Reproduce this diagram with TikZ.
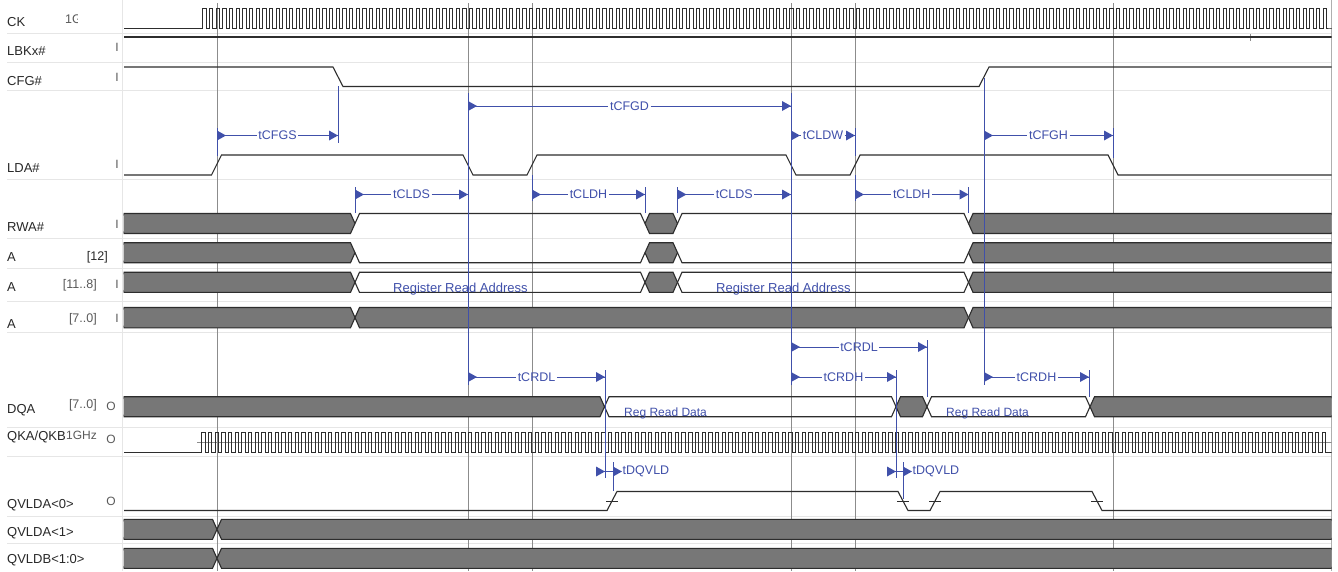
\documentclass[tikz,border=0pt]{standalone}
\usepackage{fontspec}
\setmainfont{Liberation Sans}
\definecolor{tdblue}{RGB}{64,80,170}
\definecolor{sigc}{RGB}{45,45,45}
\definecolor{busgray}{RGB}{119,119,119}
\definecolor{sepc}{RGB}{230,230,230}
\definecolor{markc}{RGB}{140,140,140}
\definecolor{labc}{RGB}{40,40,40}
\definecolor{colc}{RGB}{90,90,90}
\tikzset{
 sig/.style={draw=sigc, line width=1.1pt, line join=miter},
 gbus/.style={sig, fill=busgray},
 wbus/.style={sig},
 rowsep/.style={draw=sepc, line width=1pt},
 edgemark/.style={draw=markc, line width=0.8pt},
 extl/.style={draw=tdblue, line width=0.9pt},
 mline/.style={draw=tdblue, line width=0.9pt},
 mlab/.style={text=tdblue, font=\fontsize{12.5}{14}\selectfont, inner sep=1.5pt},
 sname/.style={anchor=base west, text=labc, font=\fontsize{13}{15}\selectfont, inner sep=0pt},
 colt/.style={anchor=base east, text=colc, font=\fontsize{12.5}{14}\selectfont, inner sep=0pt},
 iot/.style={anchor=base, text=colc, font=\fontsize{12}{14}\selectfont, inner sep=0pt},
 busl/.style={anchor=base west, text=tdblue, font=\fontsize{12}{14}\selectfont, inner sep=0pt},
 tick/.style={draw=sigc, line width=0.7pt},
}
% bus segment with pointed ends: style, a, b, top, bottom
\newcommand{\bseg}[5]{\draw[#1] (#2,{(#4+#5)/2}) -- ({#2+4.5},#4) -- ({#3-4.5},#4) -- (#3,{(#4+#5)/2}) -- ({#3-4.5},#5) -- ({#2+4.5},#5) -- cycle;}
% single level after transition: a, b, level y, mid y
\newcommand{\lvl}[4]{\draw[sig] (#1,#4) -- ({#1+4.5},#3) -- ({#2-4.5},#3) -- (#2,#4);}
% measurement: name, x0, x1, y, label
\newcommand{\meas}[5]{%
 \coordinate (#1s) at (#2,#4);
 \coordinate (#1e) at (#3,#4);
 \node[mlab] (#1) at ({(#2+#3)/2},#4) {#5};
 \draw[mline] (#1s) -- (#1.west);
 \draw[mline] (#1.east) -- (#1e);
 \fill[tdblue] (#1s) ++(0,-5) -- ++(9,5) -- ++(-9,5) -- cycle;
 \fill[tdblue] (#1e) -- ++(-9,-5) -- ++(0,10) -- cycle;
}
\begin{document}
\begin{tikzpicture}[x=1pt,y=-1pt]
\useasboundingbox (0,0) rectangle (1338,571);
\fill[white] (0,0) rectangle (1338,571);
% row separators
\foreach \yy in {33,62,90,179,238,268,301,332,427,456,516,543}
  \draw[rowsep] (7,\yy) -- (1331,\yy);
\draw[rowsep] (122,0) -- (122,571);
\draw[draw=markc!70, line width=0.8pt] (1331,0) -- (1331,571);
% clock edge markers
\foreach \xx in {217,468,532,791,855,1113}
  \draw[edgemark] (\xx,3) -- (\xx,571);
\draw[edgemark] (1250,34) -- (1250,41);

% ---- labels
\node[sname] (lck) at (7,26) {CK};
\node[sname] (llbk) at (7,55) {LBKx\#};
\node[sname] (lcfg) at (7,85) {CFG\#};
\node[sname] (llda) at (7,172.5) {LDA\#};
\node[sname] (lrwa) at (7,231) {RWA\#};
\node[sname] (la12) at (7,261) {A};
\node[sname] (la118) at (7,291) {A};
\node[sname] (la70) at (7,328) {A};
\node[sname] (ldqa) at (7,413) {DQA};
\node[sname] (lqka) at (7,440) {QKA/QKB};
\node[sname] (lqv0) at (7,508) {QVLDA<0>};
\node[sname] (lqv1) at (7,536) {QVLDA<1>};
\node[sname] (lqvb) at (7,563) {QVLDB<1:0>};
\begin{scope}
\clip (60,0) rectangle (77,33);
\node[colt, anchor=base west] (cck) at (65,23) {1GHz};
\end{scope}
\node[colt, text=labc] (c12) at (108,260) {[12]};
\node[colt] (c118) at (97,288) {[11..8]};
\node[colt] (c70) at (97,322) {[7..0]};
\node[colt] (cdqa) at (97,408) {[7..0]};
\node[colt, anchor=base west, font=\fontsize{12}{14}\selectfont] (cqka) at (66,439) {1GHz};
\node[iot] (i1) at (117,51.5) {I};
\node[iot] (i2) at (117,81.5) {I};
\node[iot] (i3) at (117,168) {I};
\node[iot] (i4) at (117,228) {I};
\node[iot] (i5) at (117,288) {I};
\node[iot] (i6) at (117,322) {I};
\node[iot] (o1) at (111,410) {O};
\node[iot] (o2) at (111,443) {O};
\node[iot] (o3) at (111,505) {O};

% ---- signals
\begin{scope}
\clip (123.5,0) rectangle (1331.5,571);
% CK
\draw[sig, line width=0.9pt] (124,28) -- (202.7,28) \foreach \i in {0,...,168}{ -- ({202.7+\i*6.67},8) -- ({202.7+(\i+0.5)*6.67},8) -- ({202.7+(\i+0.5)*6.67},28) -- ({202.7+(\i+1)*6.67},28)} -- (1332,28);
% LBKx#
\draw[sig] (124,37) -- (1332,37);
% CFG#
\draw[sig] (124,67) -- (333,67) -- (343,86.5) -- (979,86.5) -- (989,67) -- (1332,67);
% LDA#
\draw[sig] (124,175) -- (211.5,175) -- (221.5,155) -- (463,155) -- (473,175) -- (527,175) -- (537,155) -- (786,155) -- (796,175) -- (850,175) -- (860,155) -- (1108,155) -- (1118,175) -- (1332,175);
% RWA#
\bseg{gbus}{119.5}{355}{213.5}{233.5}
\lvl{355}{645}{213.5}{223.5}
\bseg{gbus}{645}{677.5}{213.5}{233.5}
\lvl{677.5}{968.5}{213.5}{223.5}
\bseg{gbus}{968.5}{1336}{213.5}{233.5}
% A[12]
\bseg{gbus}{119.5}{355}{242.7}{262.7}
\lvl{355}{645}{262.7}{252.7}
\bseg{gbus}{645}{677.5}{242.7}{262.7}
\lvl{677.5}{968.5}{262.7}{252.7}
\bseg{gbus}{968.5}{1336}{242.7}{262.7}
% A[11..8]
\bseg{gbus}{119.5}{355}{272.2}{292.4}
\bseg{wbus}{355}{645}{272.2}{292.4}
\bseg{gbus}{645}{677.5}{272.2}{292.4}
\bseg{wbus}{677.5}{968.5}{272.2}{292.4}
\bseg{gbus}{968.5}{1336}{272.2}{292.4}
% A[7..0]
\bseg{gbus}{119.5}{355}{307.5}{327.8}
\bseg{gbus}{355}{968.5}{307.5}{327.8}
\bseg{gbus}{968.5}{1336}{307.5}{327.8}
% DQA
\bseg{gbus}{119.5}{604.5}{396.7}{416.7}
\bseg{wbus}{604.5}{896}{396.7}{416.7}
\bseg{gbus}{896}{927}{396.7}{416.7}
\bseg{wbus}{927}{1090}{396.7}{416.7}
\bseg{gbus}{1090}{1336}{396.7}{416.7}
% QKA/QKB
\draw[draw=markc, line width=0.8pt] (197,442.5) -- (1332,442.5);
\draw[sig, line width=0.9pt] (124,452.7) -- (201.7,452.7) \foreach \i in {0,...,168}{ -- ({201.7+\i*6.67},432.5) -- ({201.7+(\i+0.5)*6.67},432.5) -- ({201.7+(\i+0.5)*6.67},452.7) -- ({201.7+(\i+1)*6.67},452.7)} -- (1332,452.7);
% QVLDA<0>
\draw[sig] (124,510.5) -- (607,510.5) -- (617,491.5) -- (898,491.5) -- (908,510.5) -- (930,510.5) -- (940,491.5) -- (1092,491.5) -- (1102,510.5) -- (1332,510.5);
\foreach \xx in {612,903,935,1097}
  \draw[tick] ({\xx-6},501) -- ({\xx+6},501);
% QVLDA<1>, QVLDB<1:0>
\bseg{gbus}{119.5}{217}{519.3}{539.3}
\bseg{gbus}{217}{1336}{519.3}{539.3}
\bseg{gbus}{119.5}{217}{548.3}{568.3}
\bseg{gbus}{217}{1336}{548.3}{568.3}
\end{scope}
% bus texts
\node[busl, font=\fontsize{13}{15}\selectfont] (bt1) at (393,292) {Register Read Address};
\node[busl, font=\fontsize{13}{15}\selectfont] (bt2) at (716,292) {Register Read Address};
\node[busl] (bt3) at (624,416) {Reg Read Data};
\node[busl] (bt4) at (946,416) {Reg Read Data};

% ---- extension lines
\draw[extl] (217,128) -- (217,156);
\draw[extl] (338,86) -- (338,143);
\draw[extl] (468,93) -- (468,385);
\draw[extl] (791,93) -- (791,385);
\draw[extl] (855,128) -- (855,156);
\draw[extl] (984,78) -- (984,385);
\draw[extl] (1113,128) -- (1113,158);
\draw[extl] (355,187) -- (355,213);
\draw[extl] (532,175) -- (532,201);
\draw[extl] (645,187) -- (645,213);
\draw[extl] (677.5,187) -- (677.5,213);
\draw[extl] (855,175) -- (855,201);
\draw[extl] (968.5,187) -- (968.5,213);
\draw[extl] (605,370) -- (605,478);
\draw[extl] (613,462) -- (613,491);
\draw[extl] (927,340) -- (927,397);
\draw[extl] (896,370) -- (896,478);
\draw[extl] (903,462) -- (903,499);
\draw[extl] (1089,370) -- (1089,397);

% ---- measurements
\meas{cfgs}{217}{338}{135.5}{tCFGS}
\meas{cfgd}{468}{791}{106}{tCFGD}
\meas{cldw}{791}{855}{135.5}{tCLDW}
\meas{cfgh}{984}{1113}{135.5}{tCFGH}
\meas{cldsa}{355}{468}{194.5}{tCLDS}
\meas{cldha}{532}{645}{194.5}{tCLDH}
\meas{cldsb}{677.5}{791}{194.5}{tCLDS}
\meas{cldhb}{855}{968.5}{194.5}{tCLDH}
\meas{crdla}{468}{605}{377}{tCRDL}
\meas{crdlb}{791}{927}{347}{tCRDL}
\meas{crdha}{791}{896}{377}{tCRDH}
\meas{crdhb}{984}{1089}{377}{tCRDH}
% tDQVLD (short intervals)
\coordinate (qas) at (605,471.5);
\coordinate (qae) at (613,471.5);
\node[mlab, anchor=west] (qa) at (621,471.5) {tDQVLD};
\draw[mline] ([xshift=-8pt]qas) -- (qae) -- (qa.west);
\fill[tdblue] (qas) -- ++(-9,-5) -- ++(0,10) -- cycle;
\fill[tdblue] (qae) ++(0,-5) -- ++(9,5) -- ++(-9,5) -- cycle;
\coordinate (qbs) at (896,471.5);
\coordinate (qbe) at (903,471.5);
\node[mlab, anchor=west] (qb) at (911,471.5) {tDQVLD};
\draw[mline] ([xshift=-8pt]qbs) -- (qbe) -- (qb.west);
\fill[tdblue] (qbs) -- ++(-9,-5) -- ++(0,10) -- cycle;
\fill[tdblue] (qbe) ++(0,-5) -- ++(9,5) -- ++(-9,5) -- cycle;
\end{tikzpicture}
\end{document}
